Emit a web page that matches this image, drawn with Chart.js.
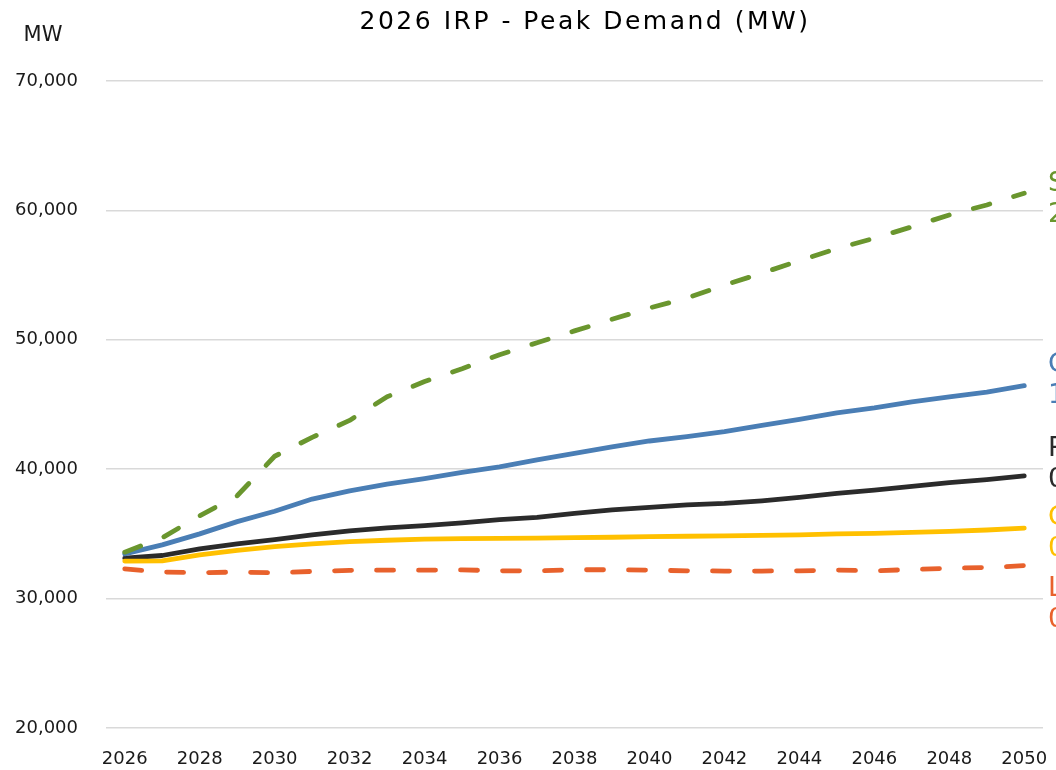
<!DOCTYPE html>
<html>
<head>
<meta charset="utf-8">
<title>2026 IRP - Peak Demand (MW)</title>
<script src="https://cdn.jsdelivr.net/npm/chart.js@4.4.1/dist/chart.umd.min.js"></script>
<style>
  html, body { margin: 0; padding: 0; background: #ffffff; }
  #wrap { width: 1056px; height: 770px; position: relative; }
</style>
</head>
<body>
<div id="wrap"><canvas id="peak_demand_chart"></canvas></div>
<script>
const years = ["2026", "2027", "2028", "2029", "2030", "2031", "2032", "2033", "2034", "2035", "2036", "2037", "2038",
               "2039", "2040", "2041", "2042", "2043", "2044", "2045", "2046", "2047", "2048", "2049", "2050"];

const stretch_mw      = [33590, 34700, 36400, 37950, 41000, 42460, 43770, 45600, 46770, 47770, 48850, 49770, 50690,
                         51580, 52460, 53230, 54230, 55150, 56120, 57040, 57850, 58730, 59650, 60420, 61330];
const combined_mw     = [33460, 34150, 35000, 35950, 36750, 37690, 38330, 38850, 39280, 39750, 40180, 40720, 41230,
                         41720, 42180, 42510, 42900, 43380, 43850, 44360, 44740, 45200, 45590, 45950, 46460];
const reference_mw    = [33130, 33330, 33850, 34230, 34560, 34920, 35230, 35460, 35640, 35850, 36100, 36280, 36590,
                         36850, 37050, 37250, 37360, 37560, 37820, 38130, 38380, 38670, 38970, 39200, 39480];
const conservative_mw = [32900, 32920, 33380, 33720, 34020, 34230, 34410, 34510, 34600, 34640, 34650, 34670, 34710,
                         34740, 34790, 34820, 34850, 34880, 34920, 35000, 35040, 35120, 35190, 35300, 35440];
const low_mw          = [32300, 32050, 32000, 32050, 32000, 32100, 32180, 32200, 32200, 32220, 32150, 32150, 32230,
                         32230, 32200, 32150, 32130, 32130, 32150, 32200, 32150, 32250, 32350, 32400, 32550];

const series_names  = ["Stretch", "Combined", "Conservative", "Reference", "Low"];
const growth_rates  = ["2.6%", "1.4%", "0.3%", "0.7%", "0.0%"];
const y_tick_values = [20000, 30000, 40000, 50000, 60000, 70000];

const FONT = "'DejaVu Sans', sans-serif";

// title, "MW" unit label and the end-of-line labels
const text_plugin =
{
    id: "text_plugin",
    afterDraw(chart)
    {
        const ctx = chart.ctx;
        ctx.save();
        ctx.fillStyle = "#000000";
        ctx.textAlign = "center";
        ctx.textBaseline = "alphabetic";
        ctx.font = "25px " + FONT;
        if ("letterSpacing" in ctx) ctx.letterSpacing = "2.5px";
        ctx.fillText("2026 IRP - Peak Demand (MW)", 585, 29);
        if ("letterSpacing" in ctx) ctx.letterSpacing = "0px";

        ctx.fillStyle = "#1a1a1a";
        ctx.font = "21px " + FONT;
        ctx.fillText("MW", 43, 41);

        ctx.textAlign = "left";
        ctx.font = "27px " + FONT;
        chart.data.datasets.forEach((ds, i) =>
        {
            const meta = chart.getDatasetMeta(i);
            const last = meta.data[meta.data.length - 1];
            const y = last.y + ds.label_offset;
            ctx.fillStyle = ds.borderColor;
            ctx.fillText(series_names[i], 1048, y);
            ctx.fillText(growth_rates[i], 1048, y + 31);
        });
        ctx.restore();
    }
};

function make_line(label, values, color, dashed, label_offset)
{
    return {
        label: label,
        data: values,
        borderColor: color,
        backgroundColor: color,
        borderWidth: 4.8,
        borderDash: dashed ? [17, 25] : [],
        borderCapStyle: "round",
        borderJoinStyle: "round",
        pointRadius: 0,
        tension: 0,
        fill: false,
        label_offset: label_offset
    };
}

const peak_demand_chart = new Chart("peak_demand_chart",
{
    type: "line",
    data:
    {
        labels: years,
        datasets:
        [
            make_line(series_names[0], stretch_mw, "#6a962e", true, -2),
            make_line(series_names[1], combined_mw, "#4a7eb5", false, -14),
            make_line(series_names[2], conservative_mw, "#ffc000", false, -3),
            make_line(series_names[3], reference_mw, "#2b2b2b", false, -20),
            make_line(series_names[4], low_mw, "#e8612c", true, 30)
        ]
    },
    options:
    {
        responsive: true,
        maintainAspectRatio: false,
        animation: false,
        layout:
        {
            padding: { top: 81, left: 10, right: 13, bottom: 0 }
        },
        plugins:
        {
            legend: { display: false },
            tooltip: { enabled: false },
            title: { display: false }
        },
        scales:
        {
            x:
            {
                offset: true,
                grid: { display: false, drawTicks: false },
                border: { display: false },
                afterFit(scale)
                {
                    scale.height = 42;
                    scale.paddingLeft = 0;
                    scale.paddingRight = 0;
                },
                ticks:
                {
                    autoSkip: false,
                    maxRotation: 0,
                    padding: 21,
                    color: "#1a1a1a",
                    font: { family: FONT, size: 18 },
                    callback: function (value, index) { return index % 2 === 0 ? years[index] : ""; }
                }
            },
            y:
            {
                min: y_tick_values[0],
                max: y_tick_values[y_tick_values.length - 1],
                grid: { color: "#d9d9d9", lineWidth: 1.6, drawTicks: false },
                border: { display: false },
                afterFit(scale) { scale.width = 96; },
                afterBuildTicks(scale) { scale.ticks = y_tick_values.map(v => ({ value: v })); },
                ticks:
                {
                    padding: 28,
                    color: "#1a1a1a",
                    font: { family: FONT, size: 18 },
                    callback: function (value) { return value.toLocaleString("en-US"); }
                }
            }
        }
    },
    plugins: [text_plugin]
});
</script>
</body>
</html>
